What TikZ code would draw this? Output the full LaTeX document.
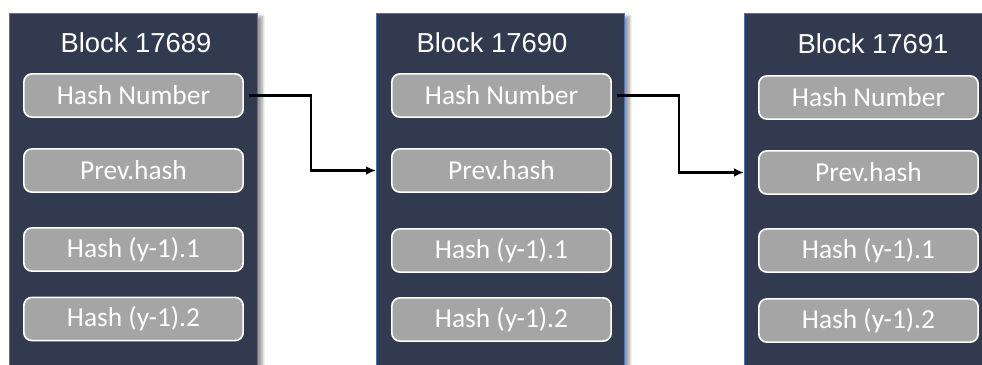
\documentclass[tikz,border=0pt]{standalone}
\usepackage{fontspec}
\setmainfont{Liberation Sans}
\newfontfamily\calibri{Carlito}
\usetikzlibrary{positioning,arrows.meta,shadows.blur}
\definecolor{blocknavy}{HTML}{323A4F}
\definecolor{blockedge}{HTML}{4472C4}
\definecolor{fieldgray}{HTML}{A5A5A5}

\begin{document}
\begin{tikzpicture}[x=0.025cm,y=-0.025cm,
    block/.style={draw=blockedge,line width=0.6pt,fill=blocknavy,minimum width=6.2cm,minimum height=9.3cm,anchor=north west,
        blur shadow={shadow xshift=0.12cm,shadow yshift=-0.08cm,shadow blur steps=8}},
    title/.style={text=white,font=\fontsize{19.5}{22}\selectfont},
    field/.style={draw=white,line width=1.2pt,fill=fieldgray,rounded corners=0.2cm,minimum width=5.48cm,minimum height=1.08cm,
        text=white,font=\calibri\fontsize{19.5}{22}\selectfont},
    link/.style={-{Latex[length=0.25cm,width=0.22cm]},line width=1.6pt}]
    \useasboundingbox (0,0) rectangle (982,365);
    \clip (0,0) rectangle (982,365);

    % Block 17689
    \node[block] (blk1) at (9,13) {};
    \node[title] (t1) at (136,43) {Block 17689};
    \node[field] (hn1) at (133.5,95.5) {Hash Number};
    \node[field] (ph1) at (133.5,170.5) {Prev.hash};
    \node[field] (ha1) at (133.5,249.5) {Hash (y-1).1};
    \node[field] (hb1) at (133.5,319) {Hash (y-1).2};

    % Block 17690
    \node[block] (blk2) at (376,13) {};
    \node[title] (t2) at (492,43) {Block 17690};
    \node[field] (hn2) at (501.5,95.5) {Hash Number};
    \node[field] (ph2) at (501.5,170.5) {Prev.hash};
    \node[field] (ha2) at (501.5,250.5) {Hash (y-1).1};
    \node[field] (hb2) at (501.5,319.5) {Hash (y-1).2};

    % Block 17691
    \node[block] (blk3) at (744,13) {};
    \node[title] (t3) at (873,44) {Block 17691};
    \node[field] (hn3) at (868.5,97.5) {Hash Number};
    \node[field] (ph3) at (868.5,172.5) {Prev.hash};
    \node[field] (ha3) at (868.5,250.5) {Hash (y-1).1};
    \node[field] (hb3) at (868.5,320.5) {Hash (y-1).2};

    % Links
    \draw[link] ([xshift=0.12cm]hn1.east) -- ++(62,0) |- (blk2.west |- ph2.west);
    \draw[link] ([xshift=0.12cm]hn2.east) -- ++(62,0) |- (blk3.west |- ph3.west);
\end{tikzpicture}
\end{document}
